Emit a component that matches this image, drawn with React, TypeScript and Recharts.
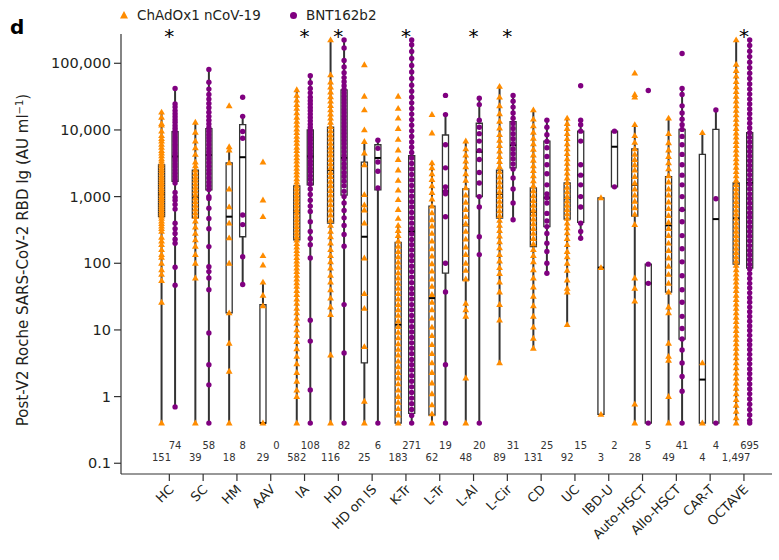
import React from 'react';
import { ComposedChart, Label, ReferenceArea, ReferenceLine, Scatter, XAxis, YAxis } from 'recharts';

const categories = [
  'HC', 'SC', 'HM', 'AAV', 'IA', 'HD', 'HD on IS', 'K-Tr', 'L-Tr',
  'L-AI', 'L-Cir', 'CD', 'UC', 'IBD-U', 'Auto-HSCT', 'Allo-HSCT', 'CAR-T', 'OCTAVE',
];
const chadCounts = [151, 39, 18, 29, 582, 116, 25, 183, 62, 48, 89, 131, 92, 3, 28, 49, 4, 1497];
const bntCounts = [74, 58, 8, 0, 108, 82, 6, 271, 19, 20, 31, 25, 15, 2, 5, 41, 4, 695];
const starred = ['HC', 'IA', 'HD', 'K-Tr', 'L-AI', 'L-Cir', 'OCTAVE'];
const yTicks = [0.1, 1, 10, 100, 1000, 10000, 100000];

// [whisker low, Q1, median, Q3, whisker high]
const chadBoxes: number[][] = [
  [0.4, 500, 1100, 3000, 18500],
  [0.4, 480, 1000, 2500, 13000],
  [0.4, 18, 500, 3200, 5600],
  [0.4, 0.4, 0.4, 24, 52],
  [0.4, 224, 600, 1450, 40000],
  [0.4, 400, 2500, 11000, 224000],
  [0.4, 3.2, 250, 3300, 6700],
  [0.4, 0.4, 12, 205, 370],
  [0.4, 0.53, 30, 720, 3200],
  [0.4, 56, 370, 1300, 6800],
  [3.2, 475, 1100, 2500, 45000],
  [5.3, 178, 590, 1350, 20000],
  [12, 460, 940, 1600, 15000],
  [0.54, 0.54, 86, 960, 960],
  [0.4, 510, 1500, 5200, 12000],
  [0.4, 37, 370, 2000, 15000],
  [0.4, 0.4, 1.8, 4300, 9100],
  [0.4, 97, 470, 1600, 224000],
];
const bntBoxes: (number[] | null)[] = [
  [0.7, 1700, 4000, 9400, 42000],
  [0.4, 1260, 4200, 10500, 81000],
  [48, 250, 3900, 12000, 16000],
  null,
  [0.4, 1500, 4000, 10000, 65000],
  [0.4, 1050, 3800, 40000, 224000],
  [0.4, 1260, 3800, 6000, 7000],
  [0.4, 0.56, 300, 4100, 224000],
  [0.4, 71, 1200, 8400, 17000],
  [0.4, 1000, 4700, 12600, 30000],
  [450, 2700, 5900, 13300, 33000],
  [71, 355, 960, 6800, 14000],
  [237, 410, 2100, 9600, 14000],
  [1400, 1400, 5600, 9600, 9600],
  [0.4, 0.4, 50, 97, 97],
  [0.4, 7.3, 630, 10200, 42000],
  [0.4, 0.4, 460, 10200, 20000],
  [0.4, 85, 1600, 9100, 224000],
];

const chadPoints: number[][] = [
  [18500, 15500, 12500, 11800, 9600, 8200, 7400, 6800, 6100, 5500, 4900, 4500, 4100, 3700, 3400, 3100, 2900, 2650, 2450, 2250, 2050, 1900, 1750, 1620, 1500, 1380, 1270, 1180, 1090, 1000, 930, 870, 800, 740, 690, 640, 590, 550, 510, 470, 430, 395, 360, 330, 300, 245, 215, 190, 160, 135, 123, 100, 80, 68, 55, 26, 0.4],
  [13000, 9200, 6800, 5400, 4300, 3300, 2900, 2500, 2200, 1950, 1750, 1550, 1380, 1220, 1080, 950, 840, 740, 650, 570, 500, 430, 350, 280, 225, 180, 135, 100, 60, 0.4],
  [23000, 5600, 5000, 3200, 1300, 700, 400, 240, 100, 18, 6.3, 2.4, 0.4],
  [3300, 890, 500, 130, 94, 52, 33, 23, 0.4],
  [40000, 33000, 28000, 24000, 21000, 18000, 15500, 13500, 11800, 10300, 9100, 8000, 7100, 6300, 5500, 4900, 4300, 3800, 3400, 3000, 2650, 2350, 2100, 1850, 1650, 1450, 1300, 1150, 1020, 910, 810, 720, 640, 570, 505, 450, 400, 355, 315, 280, 250, 222, 197, 175, 155, 138, 122, 108, 96, 85, 75, 66, 58, 51, 45, 39, 34, 29, 25, 21, 18, 15, 12.5, 10, 8.3, 6.7, 5.2, 4, 3.1, 2.3, 1.7, 1.25, 1, 0.4],
  [224000, 67000, 52000, 44000, 37000, 31500, 27000, 23200, 20000, 17300, 15000, 13000, 11200, 9700, 8400, 7300, 6300, 5500, 4800, 4200, 3600, 3100, 2700, 2300, 2000, 1700, 1450, 1230, 1050, 890, 750, 630, 530, 440, 370, 300, 250, 200, 160, 130, 105, 85, 66, 52, 40, 30, 22, 17, 4.2, 0.4],
  [95000, 32000, 20000, 10000, 6700, 4500, 3000, 1070, 750, 630, 400, 120, 35, 21, 5.6, 0.85, 0.4],
  [32000, 21000, 15000, 10500, 7200, 5000, 3600, 2500, 1750, 1250, 900, 640, 470, 370, 310, 260, 215, 180, 150, 125, 104, 87, 72, 60, 50, 42, 35, 29, 24, 20, 16.5, 13.6, 11.2, 9.2, 7.6, 6.2, 5.1, 4.2, 3.4, 2.8, 2.3, 1.9, 1.55, 1.25, 1, 0.82, 0.66, 0.53, 0.4],
  [17000, 9000, 3200, 2700, 2200, 1800, 1450, 1150, 920, 720, 570, 450, 360, 280, 215, 165, 128, 98, 76, 58, 45, 34, 26, 20, 15, 11, 8.2, 6, 4.4, 3.2, 2.3, 1.6, 1.1, 0.75, 0.55, 0.4],
  [6800, 5200, 4200, 3400, 2800, 2200, 1750, 1350, 1050, 820, 640, 500, 390, 300, 230, 175, 135, 100, 78, 58, 25, 20, 16, 1.9, 0.4],
  [45000, 31000, 23000, 17500, 13500, 10700, 8500, 7000, 5800, 4800, 4000, 3350, 2800, 2350, 1970, 1650, 1400, 1180, 1000, 850, 720, 610, 520, 440, 370, 310, 255, 210, 170, 135, 108, 86, 70, 52, 37, 24, 14, 3.2],
  [20000, 14500, 11500, 9200, 7500, 6200, 5100, 4200, 3500, 2900, 2450, 2050, 1720, 1450, 1220, 1030, 870, 740, 630, 540, 460, 390, 330, 280, 235, 195, 160, 130, 105, 80, 60, 44, 32, 23, 16, 11, 7.5, 5.3],
  [15000, 12500, 10500, 8800, 7400, 6200, 5200, 4400, 3700, 3150, 2650, 2250, 1900, 1620, 1380, 1180, 1000, 860, 740, 640, 550, 470, 400, 340, 285, 235, 190, 150, 125, 100, 78, 56, 42, 37, 12],
  [960, 86, 0.54],
  [71000, 34000, 31000, 12000, 8200, 6500, 5200, 4300, 3600, 3000, 2500, 2000, 1600, 1300, 1050, 850, 680, 540, 380, 60, 42, 27, 0.77, 0.4],
  [15000, 8800, 6400, 5000, 4000, 3200, 2600, 2050, 1650, 1300, 1050, 830, 660, 520, 410, 330, 260, 200, 155, 120, 90, 68, 50, 37, 22, 18, 6.3, 4, 3.5, 1, 0.4],
  [9100, 3.2, 0.4],
  [224000, 96000, 78000, 64000, 53000, 44500, 37500, 31800, 27000, 23000, 19600, 16800, 14400, 12300, 10500, 9000, 7800, 6700, 5800, 5000, 4300, 3700, 3200, 2750, 2370, 2040, 1760, 1520, 1310, 1130, 980, 845, 730, 630, 545, 470, 405, 350, 302, 260, 225, 194, 168, 145, 125, 108, 93, 80, 69, 60, 52, 45, 39, 33, 28.5, 24.5, 21, 18, 15.5, 13.3, 11.4, 9.8, 8.4, 7.2, 6.2, 5.3, 4.5, 3.8, 3.2, 2.7, 2.25, 1.9, 1.6, 1.33, 1.1, 0.9, 0.74, 0.6, 0.48, 0.4],
];
const bntPoints: number[][] = [
  [42000, 24500, 22000, 19500, 17500, 15800, 14200, 13000, 11700, 10600, 9700, 8800, 8000, 7300, 6700, 6100, 5600, 5100, 4600, 4200, 3800, 3450, 3100, 2800, 2500, 2250, 2000, 1800, 1600, 1150, 980, 880, 760, 650, 400, 330, 280, 230, 200, 87, 47, 0.7],
  [81000, 52000, 41000, 34000, 29000, 25000, 21500, 18500, 16000, 14000, 12300, 10800, 9600, 8500, 7600, 6800, 6000, 5300, 4700, 4200, 3700, 3250, 2850, 2500, 2200, 1900, 1650, 1450, 1280, 1000, 940, 670, 470, 330, 178, 89, 75, 60, 40, 9, 3, 1.5, 0.4],
  [31000, 16000, 9500, 7500, 530, 380, 125, 48],
  [],
  [65000, 51000, 42000, 36000, 31000, 27500, 24500, 21800, 19400, 17300, 15400, 13700, 12200, 10900, 9700, 8700, 7800, 7000, 6200, 5500, 4900, 4400, 3900, 3400, 3000, 2650, 2350, 2050, 1800, 1550, 1300, 1080, 880, 720, 600, 420, 300, 235, 190, 120, 14, 6.8, 1.26, 0.4],
  [224000, 170000, 110000, 88000, 72000, 61000, 53000, 46000, 40500, 36000, 32000, 28500, 25500, 22800, 20300, 18100, 16100, 14300, 12700, 11300, 10000, 8900, 7900, 7000, 6200, 5400, 4700, 4100, 3600, 3100, 2700, 2300, 2000, 1700, 1450, 1200, 1000, 800, 620, 480, 370, 270, 180, 24, 4.5, 0.4],
  [7000, 5300, 3300, 2400, 1350, 0.4],
  [224000, 190000, 150000, 118000, 93000, 74000, 59000, 47000, 38000, 31000, 25500, 21000, 17300, 14300, 11800, 9700, 8000, 6600, 5500, 4600, 3800, 3150, 2600, 2150, 1780, 1470, 1220, 1010, 840, 700, 580, 480, 400, 330, 275, 228, 190, 158, 131, 109, 90, 75, 62, 51, 42, 35, 29, 24, 20, 16.5, 13.6, 11.2, 9.3, 7.7, 6.4, 5.3, 4.4, 3.6, 3, 2.5, 2.05, 1.7, 1.4, 1.15, 0.95, 0.78, 0.64, 0.52, 0.4],
  [33000, 17000, 6000, 2700, 1400, 1200, 1100, 500, 100, 37, 3, 0.4],
  [30000, 24000, 14000, 11000, 8800, 6800, 4900, 3600, 2300, 1600, 1000, 700, 250, 135, 0.4],
  [33000, 27000, 22000, 18000, 15000, 12500, 10500, 8800, 7400, 6200, 5200, 4400, 3700, 3100, 2600, 1900, 1300, 800, 450],
  [14000, 11000, 8500, 6700, 5400, 4000, 3000, 2200, 1500, 1100, 960, 800, 560, 430, 355, 280, 200, 150, 100, 71],
  [46000, 14000, 12000, 9600, 6800, 3000, 2100, 1500, 1000, 700, 400, 300, 237],
  [9600, 1400],
  [39000, 97, 50, 0.4],
  [140000, 42000, 34000, 23000, 18000, 14500, 12000, 10200, 8000, 6000, 4300, 3000, 2100, 1500, 1000, 640, 420, 260, 165, 105, 65, 40, 26, 16, 10.5, 7.3, 5, 3.2, 2, 1.2, 0.4],
  [20000, 930, 0.4],
  [224000, 185000, 152000, 126000, 104000, 86000, 71000, 59000, 49000, 41000, 34500, 29000, 24500, 20700, 17500, 14800, 12600, 10700, 9100, 7750, 6600, 5600, 4750, 4050, 3450, 2930, 2490, 2120, 1800, 1530, 1300, 1100, 935, 795, 675, 575, 490, 415, 353, 300, 255, 217, 184, 156, 133, 113, 96, 82, 70, 59, 50, 42.5, 36, 30.5, 26, 22, 18.7, 15.9, 13.5, 11.5, 9.8, 8.3, 7, 6, 5.1, 4.3, 3.65, 3.1, 2.6, 2.2, 1.85, 1.55, 1.3, 1.1, 0.92, 0.77, 0.64, 0.53, 0.44, 0.4],
];

const ORANGE = '#ff8c00';
const PURPLE = '#800080';
const INK = '#333333';
const TEXT = '#231f20';
const FONT = '"DejaVu Sans", sans-serif';

// horizontal placement inside each category slot (x-axis units)
const CHAD_DX = -0.23;
const BNT_DX = 0.17;
const BOX_HALF = 0.09;
const STAR_DX = 0;
// where the count rows and the stars sit on the log axis
const COUNT_Y_BNT = 0.182;
const COUNT_Y_CHAD = 0.121;
const STAR_Y = 250000;

const chadData = chadPoints.flatMap((vals, i) => vals.map((y) => ({ x: i + CHAD_DX, y })));
const bntData = bntPoints.flatMap((vals, i) => vals.map((y) => ({ x: i + BNT_DX, y })));
const countData = categories.flatMap((_, i) => [
  { x: i + CHAD_DX, y: COUNT_Y_CHAD, text: chadCounts[i].toLocaleString('en-US') },
  { x: i + BNT_DX, y: COUNT_Y_BNT, text: bntCounts[i].toLocaleString('en-US') },
]);
const starData = categories
  .map((c, i) => ({ c, x: i + STAR_DX, y: STAR_Y }))
  .filter((d) => starred.includes(d.c));

function boxParts(stats: number[] | null, x: number, key: string) {
  if (!stats) return [];
  const [lo, q1, med, q3, hi] = stats;
  const parts = [];
  if (lo < q1) {
    parts.push(
      <ReferenceLine key={key + 'lo'} segment={[{ x, y: lo }, { x, y: q1 }]} stroke={INK} strokeWidth={2} />
    );
  }
  if (hi > q3) {
    parts.push(
      <ReferenceLine key={key + 'hi'} segment={[{ x, y: q3 }, { x, y: hi }]} stroke={INK} strokeWidth={2} />
    );
  }
  parts.push(
    <ReferenceArea
      key={key + 'box'}
      x1={x - BOX_HALF}
      x2={x + BOX_HALF}
      y1={q1}
      y2={q3}
      fill="#ffffff"
      fillOpacity={1}
      stroke={INK}
      strokeWidth={1.3}
    />
  );
  parts.push(
    <ReferenceLine
      key={key + 'med'}
      segment={[{ x: x - BOX_HALF, y: med }, { x: x + BOX_HALF, y: med }]}
      stroke="#000000"
      strokeWidth={2}
    />
  );
  return parts;
}

const Triangle = (p: any) => (
  <polygon
    points={`${p.cx},${p.cy - 3.5} ${p.cx + 3.4},${p.cy + 2.4} ${p.cx - 3.4},${p.cy + 2.4}`}
    fill={ORANGE}
  />
);
const Dot = (p: any) => <circle cx={p.cx} cy={p.cy} r={2.7} fill={PURPLE} />;
const CountText = (p: any) => (
  <text x={p.cx} y={p.cy} dy="0.35em" textAnchor="middle" fontSize={10} fill={INK} fontFamily={FONT}>
    {p.payload.text}
  </text>
);
const Star = (p: any) => (
  <text x={p.cx} y={p.cy} dy={6} textAnchor="middle" fontSize={20} fill="#000" fontFamily={FONT}>
    *
  </text>
);

const CategoryTick = (props: any) => {
  const { x, y, payload } = props;
  return (
    <g transform={`translate(${x + 2},${y + 4}) rotate(-45)`}>
      <text x={0} y={0} dy="0.35em" textAnchor="end" fontSize={13} fill={TEXT} fontFamily={FONT}>
        {categories[payload.value]}
      </text>
    </g>
  );
};

const YTitle = (props: any) => {
  const vb = props.viewBox || { x: 0, y: 34, width: 121, height: 440 };
  const x = vb.x + 28;
  const y = vb.y + vb.height / 2 + 6;
  return (
    <text x={x} y={y} transform={`rotate(-90, ${x}, ${y})`} textAnchor="middle" fontSize={15} fill={TEXT} fontFamily={FONT}>
      Post-V2 Roche SARS-CoV-2 RBD Ig (AU ml
      <tspan dy={-5} fontSize={10}>−1</tspan>
      <tspan dy={5}>)</tspan>
    </text>
  );
};

export default function App() {
  return (
    <div style={{ position: 'absolute', left: 0, top: 0, width: 779, height: 560, background: '#fff', fontFamily: FONT }}>
      <ComposedChart width={779} height={560} margin={{ top: 34, right: 7, bottom: 0, left: 0 }}>
        <XAxis
          type="number"
          dataKey="x"
          domain={[-1.43, 17.83]}
          ticks={categories.map((_, i) => i)}
          interval={0}
          tick={<CategoryTick />}
          tickSize={7}
          height={86}
          stroke={INK}
          axisLine={{ stroke: INK, strokeWidth: 1.2 }}
          tickLine={{ stroke: INK, strokeWidth: 1.2 }}
        />
        <YAxis
          type="number"
          dataKey="y"
          scale="log"
          domain={[0.069, 275000]}
          ticks={yTicks}
          interval={0}
          tickFormatter={(v: number) => v.toLocaleString('en-US')}
          width={121}
          tickSize={7}
          tickMargin={3}
          tick={{ fill: TEXT, fontSize: 14.5, fontFamily: FONT }}
          stroke={INK}
          axisLine={{ stroke: INK, strokeWidth: 1.2 }}
          tickLine={{ stroke: INK, strokeWidth: 1.2 }}
        >
          <Label content={<YTitle />} />
        </YAxis>

        {chadBoxes.map((s, i) => boxParts(s, i + CHAD_DX, 'c' + i))}
        {bntBoxes.map((s, i) => boxParts(s, i + BNT_DX, 'b' + i))}

        <Scatter name="ChAdOx1 nCoV-19" data={chadData} shape={Triangle} isAnimationActive={false} />
        <Scatter name="BNT162b2" data={bntData} shape={Dot} isAnimationActive={false} />
        <Scatter data={countData} shape={CountText} isAnimationActive={false} legendType="none" />
        <Scatter data={starData} shape={Star} isAnimationActive={false} legendType="none" />
      </ComposedChart>

      <svg width={779} height={40} style={{ position: 'absolute', left: 0, top: 0, pointerEvents: 'none' }}>
        <text x={10} y={34} fontSize={20} fontWeight="bold" fill="#000" fontFamily={FONT}>d</text>
        <polygon points="124,11 128,18.5 120,18.5" fill={ORANGE} />
        <text x={137} y={19.5} fontSize={13.5} fill={TEXT} fontFamily={FONT}>ChAdOx1 nCoV-19</text>
        <circle cx={293.5} cy={15.5} r={3.5} fill={PURPLE} />
        <text x={306} y={19.5} fontSize={13.5} fill={TEXT} fontFamily={FONT}>BNT162b2</text>
      </svg>
    </div>
  );
}
